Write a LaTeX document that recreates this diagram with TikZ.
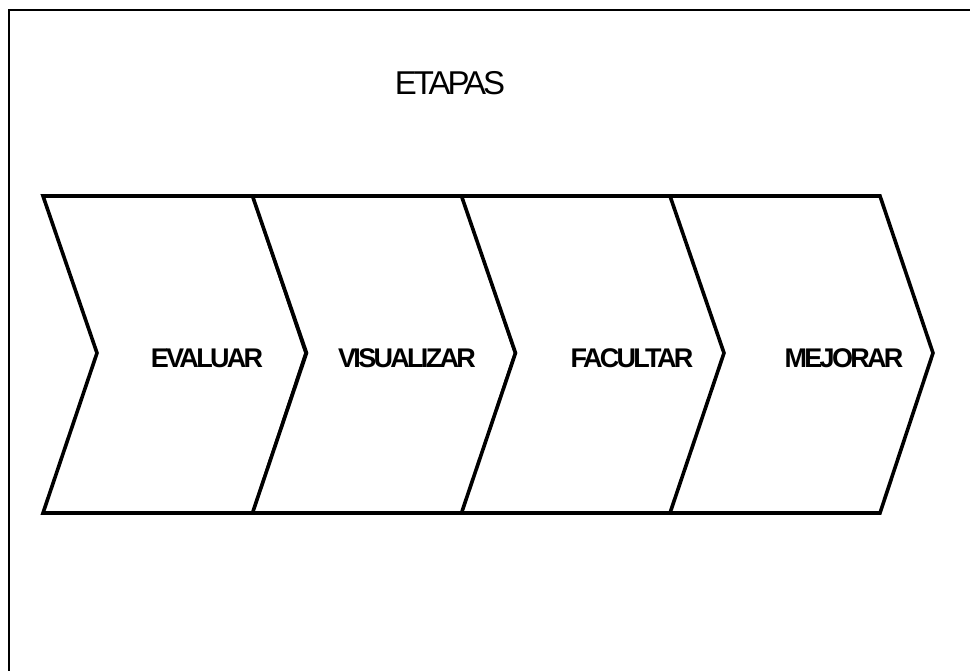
\documentclass[tikz,border=0pt]{standalone}
\usepackage{fontspec}
\setmainfont{Liberation Sans}
\tikzset{
  chev/.style={draw=black, line width=3.6pt, line join=miter, fill=white},
  frameline/.style={draw=black, line width=2.6pt},
  lbl/.style={anchor=base, inner sep=0pt, font=\fontsize{27}{29}\selectfont\bfseries\addfontfeature{LetterSpace=-10}},
  ttl/.style={anchor=base, inner sep=0pt, font=\fontsize{33}{35}\selectfont\addfontfeature{LetterSpace=-9}}
}
\begin{document}
\begin{tikzpicture}[x=1pt, y=-1pt]
\useasboundingbox (0,0) rectangle (970,671);
% frame (only top and left sides show)
\draw[frameline] (9,671) -- (9,10) -- (970,10);
% chevrons
\foreach \L [count=\i] in {43,252.5,461.5,670} {
  \pgfmathsetmacro{\R}{\L+210}
  \draw[chev] (\L,196) -- (\R,196) -- (\R+53,353) -- (\R,513) -- (\L,513) -- (\L+54,353) -- cycle;
}
\node[ttl] (title) at (450,95) {ETAPAS};
\node[lbl] (evaluar) at (207,367) {EVALUAR};
\node[lbl] (visualizar) at (407,367) {VISUALIZAR};
\node[lbl] (facultar) at (632,367) {FACULTAR};
\node[lbl] (mejorar) at (844,367) {MEJORAR};
\end{tikzpicture}
\end{document}
